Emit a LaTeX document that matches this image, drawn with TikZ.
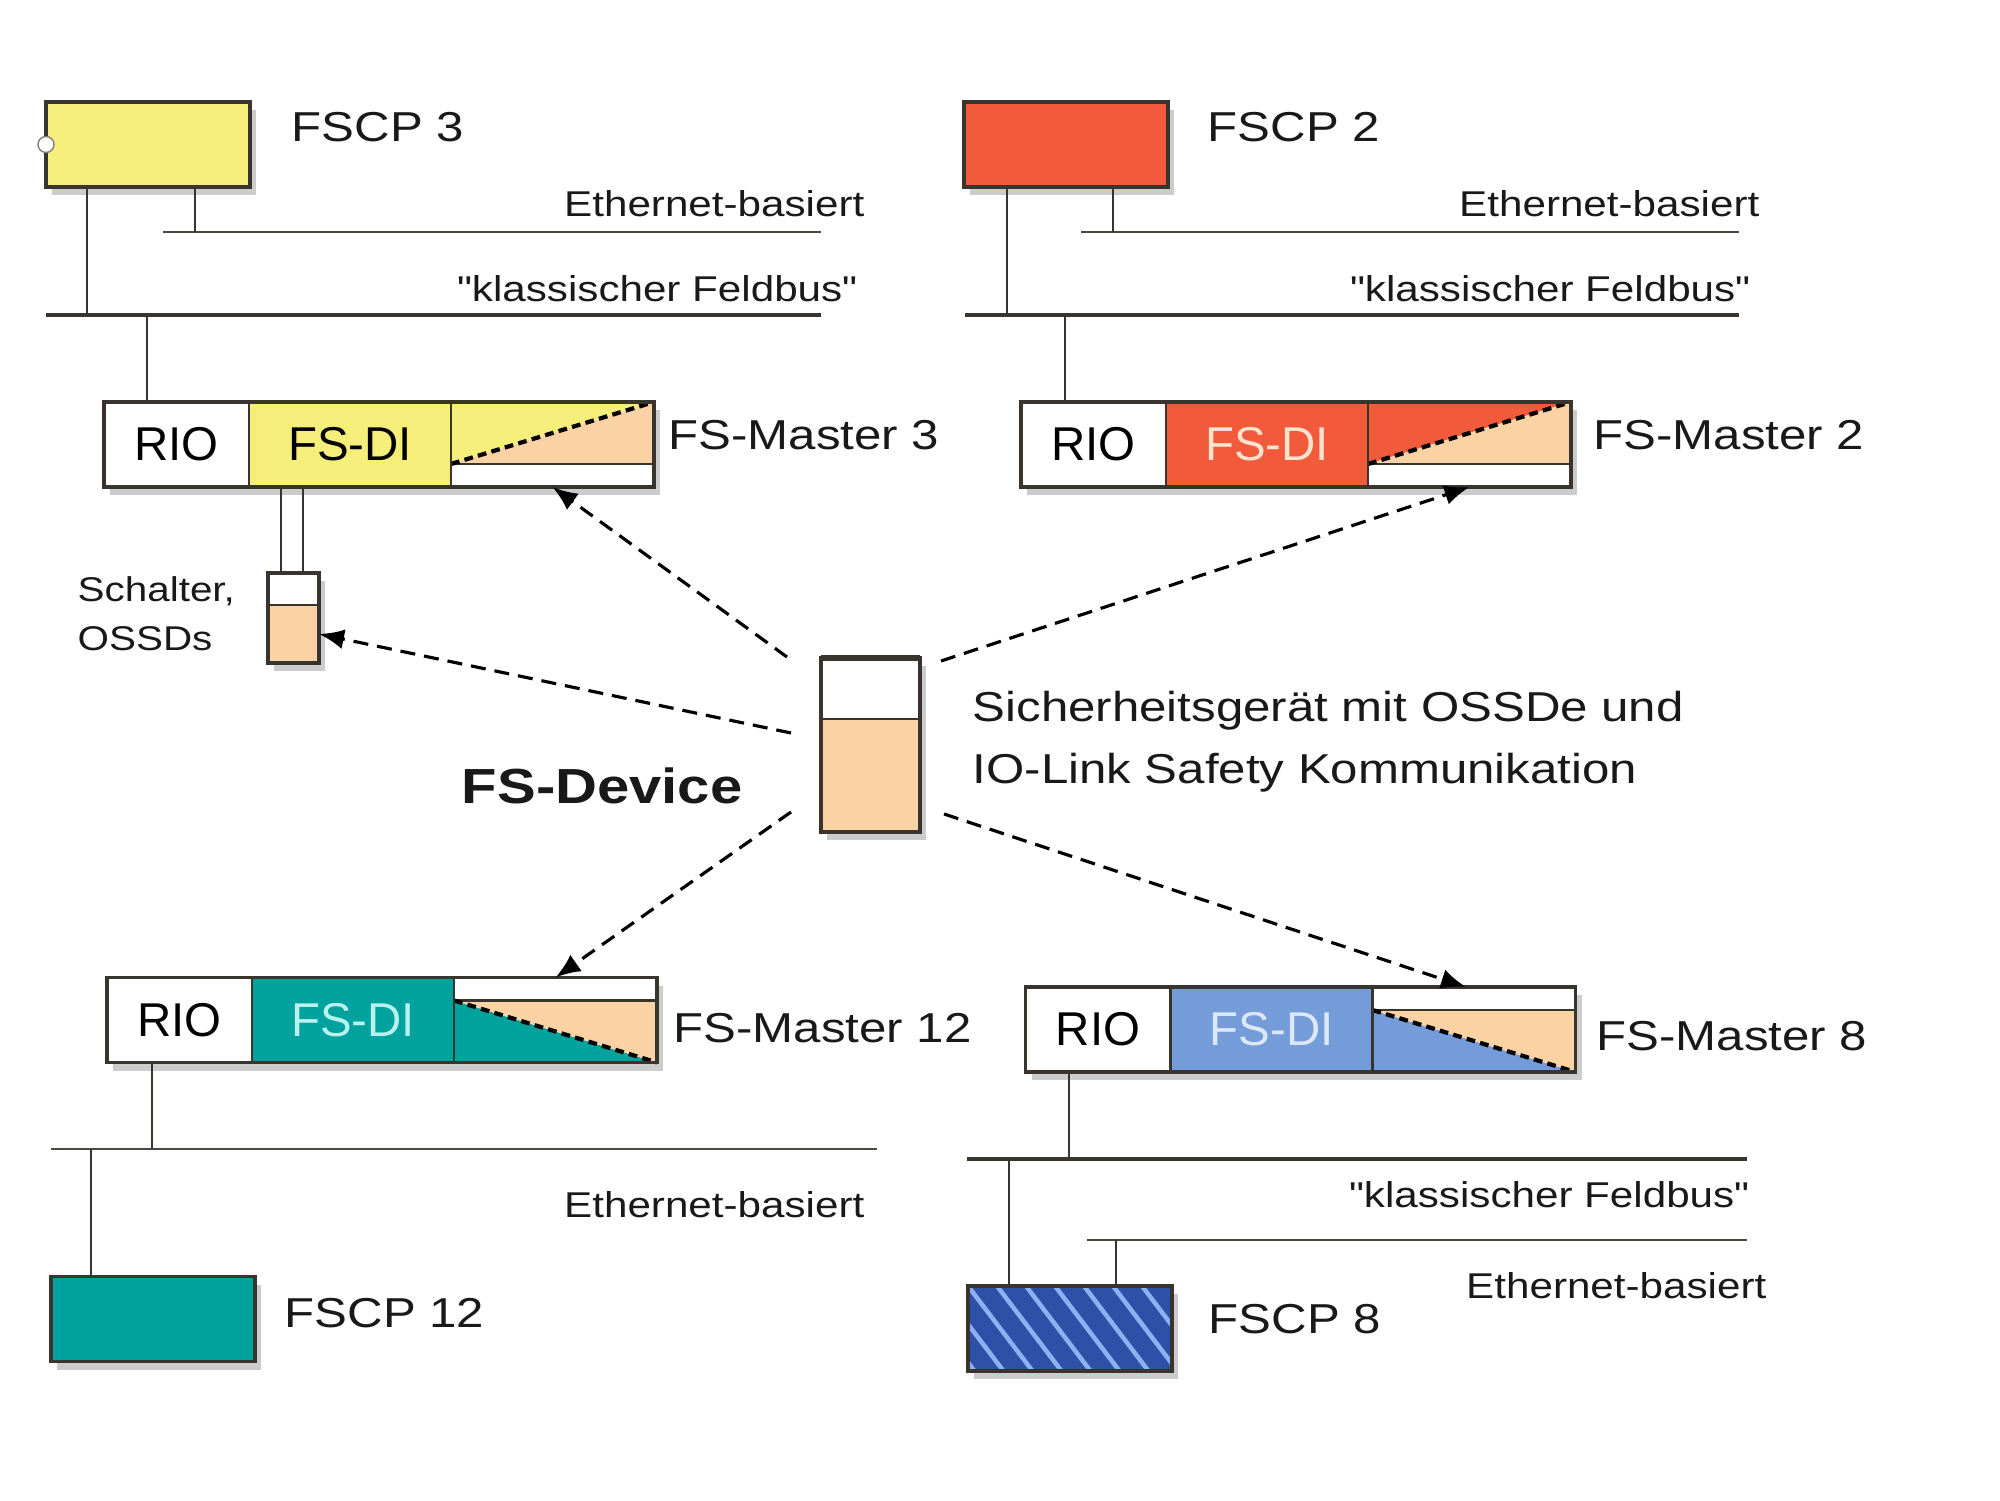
\documentclass[tikz,border=0pt]{standalone}
\usepackage{fontspec}
\setmainfont{Liberation Sans}
\usetikzlibrary{positioning, arrows.meta, calc, shadows}

\definecolor{fsyellow}{HTML}{F5EE7A}
\definecolor{fsred}{HTML}{F15A3A}
\definecolor{fspeach}{HTML}{FBD2A3}
\definecolor{fsteal}{HTML}{00A29D}
\definecolor{fsblue}{HTML}{739CD9}
\definecolor{fsnavy}{HTML}{2E51A8}
\definecolor{fsstripe}{HTML}{8DB0F2}
\definecolor{edgegray}{HTML}{3A342E}
\definecolor{txtred}{HTML}{FCE3CF}
\definecolor{txtteal}{HTML}{B8F2EE}
\definecolor{txtblue}{HTML}{DCE7F7}

\begin{document}
\begin{tikzpicture}[
	font=\fontsize{14}{17}\selectfont,
	>=Latex,
	% Define styles for the boxes
	cpbox/.style={
		draw=edgegray,
		line width=1pt,
		minimum width=2.04cm,
		minimum height=0.85cm,
		inner sep=0pt,
		outer sep=0pt,
		drop shadow={shadow xshift=0.06cm, shadow yshift=-0.08cm, fill=black!50, opacity=0.4}
	},
	master/.style={cpbox, minimum width=5.50cm, fill=white},
	section/.style={
		minimum height=0.85cm,
		inner sep=0pt,
		outer sep=0pt,
		font=\fontsize{13.5}{16}\selectfont
	},
	rio/.style={section, minimum width=1.45cm, fill=white},
	fsdi/.style={section, minimum width=2.02cm},
	endpart/.style={section, minimum width=2.03cm},
	boxline/.style={draw=edgegray, line width=1pt},
	thinline/.style={draw=edgegray, line width=0.6pt},
	diagline/.style={draw=black, line width=1.2pt, dash pattern=on 2.5pt off 1.5pt},
	% Define styles for the buses and links
	ethbus/.style={draw=edgegray!90, line width=0.7pt},
	fieldbus/.style={draw=edgegray, line width=1.1pt},
	wire/.style={draw=edgegray, line width=0.7pt},
	link/.style={
		draw=black,
		line width=0.9pt,
		dash pattern=on 0.15cm off 0.09cm,
		-{Latex[length=0.25cm, width=0.2cm]}
	},
	% Define styles for the texts
	lbl/.style={inner sep=0pt, text=black!90, yscale=0.85},
	buslbl/.style={lbl, font=\fontsize{12}{14}\selectfont}
	]
	
	\useasboundingbox (0,0) rectangle (20,15);
	\fill[white] (0,0) rectangle (20,15);
	
	% --- 1. FSCP 3 / FS-MASTER 3 ---
	\node[cpbox, fill=fsyellow] (fscp3) at (1.48,13.555) {};
	\node[circle, draw=black!50, fill=white, line width=0.4pt, minimum size=0.16cm, inner sep=0pt] (port3) at (fscp3.west) {};
	\node[lbl, anchor=base west] (fscp3lbl) at (2.91,13.58) {FSCP 3};
	
	\coordinate (eth3w) at (1.63,12.68);
	\coordinate (eth3e) at (8.21,12.68);
	\coordinate (fb3w) at (0.46,11.85);
	\coordinate (fb3e) at (8.21,11.85);
	\draw[ethbus] (eth3w) -- (eth3e);
	\draw[fieldbus] (fb3w) -- (fb3e);
	\node[buslbl, anchor=base east] (eth3lbl) at (8.65,12.83) {Ethernet-basiert};
	\node[buslbl, anchor=base east] (fb3lbl) at (8.58,11.98) {\textquotedbl klassischer Feldbus\textquotedbl};
	
	\coordinate (tap3a) at (0.87,11.85);
	\coordinate (tap3b) at (1.95,12.68);
	\coordinate (tap3c) at (1.47,11.85);
	\draw[wire] (fscp3.south -| tap3a) -- (tap3a);
	\draw[wire] (fscp3.south -| tap3b) -- (tap3b);
	
	\node[master] (m3) at (3.79,10.555) {};
	\node[rio, anchor=west] (m3rio) at (m3.west) {RIO};
	\node[fsdi, fill=fsyellow, right=0pt of m3rio] (m3di) {FS-DI};
	\node[endpart, right=0pt of m3di] (m3r) {};
	\fill[fsyellow] ([yshift=0.23cm]m3r.south west) -- (m3r.north west) -- (m3r.north east) -- cycle;
	\fill[fspeach] ([yshift=0.23cm]m3r.south west) -- ([yshift=0.23cm]m3r.south east) -- (m3r.north east) -- cycle;
	\draw[thinline] ([yshift=0.23cm]m3r.south west) -- ([yshift=0.23cm]m3r.south east);
	\draw[diagline] ([yshift=0.23cm]m3r.south west) -- (m3r.north east);
	\draw[thinline] (m3rio.north east) -- (m3rio.south east) (m3di.north east) -- (m3di.south east);
	\draw[boxline] (m3.south west) rectangle (m3.north east);
	\node[lbl, anchor=base west] (m3lbl) at (6.68,10.50) {FS-Master 3};
	\draw[wire] (tap3c) -- (m3.north -| tap3c);
	
	% Switches / OSSDs
	\node[cpbox, minimum width=0.51cm, minimum height=0.90cm, fill=white] (sw) at (2.935,8.82) {};
	\node[section, minimum width=0.51cm, minimum height=0.58cm, fill=fspeach, anchor=south] (swlow) at (sw.south) {};
	\draw[thinline] (swlow.north west) -- (swlow.north east);
	\draw[boxline] (sw.south west) rectangle (sw.north east);
	\coordinate (sw1) at ([xshift=0.13cm]sw.north west);
	\coordinate (sw2) at ([xshift=0.35cm]sw.north west);
	\draw[wire] (sw1) -- (sw1 |- m3.south);
	\draw[wire] (sw2) -- (sw2 |- m3.south);
	\node[lbl, font=\fontsize{11.5}{14}\selectfont, anchor=base west] (swlbl1) at (0.77,8.98) {Schalter,};
	\node[lbl, font=\fontsize{11.5}{14}\selectfont, anchor=base west] (swlbl2) at (0.77,8.50) {OSSDs};
	
	% --- 2. FSCP 2 / FS-MASTER 2 ---
	\node[cpbox, fill=fsred] (fscp2) at (10.66,13.555) {};
	\node[lbl, anchor=base west] (fscp2lbl) at (12.07,13.58) {FSCP 2};
	
	\coordinate (eth2w) at (10.81,12.68);
	\coordinate (eth2e) at (17.39,12.68);
	\coordinate (fb2w) at (9.65,11.85);
	\coordinate (fb2e) at (17.39,11.85);
	\draw[ethbus] (eth2w) -- (eth2e);
	\draw[fieldbus] (fb2w) -- (fb2e);
	\node[buslbl, anchor=base east] (eth2lbl) at (17.60,12.83) {Ethernet-basiert};
	\node[buslbl, anchor=base east] (fb2lbl) at (17.51,11.98) {\textquotedbl klassischer Feldbus\textquotedbl};
	
	\coordinate (tap2a) at (10.07,11.85);
	\coordinate (tap2b) at (11.13,12.68);
	\coordinate (tap2c) at (10.65,11.85);
	\draw[wire] (fscp2.south -| tap2a) -- (tap2a);
	\draw[wire] (fscp2.south -| tap2b) -- (tap2b);
	
	\node[master] (m2) at (12.96,10.555) {};
	\node[rio, anchor=west] (m2rio) at (m2.west) {RIO};
	\node[fsdi, fill=fsred, text=txtred, right=0pt of m2rio] (m2di) {FS-DI};
	\node[endpart, right=0pt of m2di] (m2r) {};
	\fill[fsred] ([yshift=0.23cm]m2r.south west) -- (m2r.north west) -- (m2r.north east) -- cycle;
	\fill[fspeach] ([yshift=0.23cm]m2r.south west) -- ([yshift=0.23cm]m2r.south east) -- (m2r.north east) -- cycle;
	\draw[thinline] ([yshift=0.23cm]m2r.south west) -- ([yshift=0.23cm]m2r.south east);
	\draw[diagline] ([yshift=0.23cm]m2r.south west) -- (m2r.north east);
	\draw[thinline] (m2rio.north east) -- (m2rio.south east) (m2di.north east) -- (m2di.south east);
	\draw[boxline] (m2.south west) rectangle (m2.north east);
	\node[lbl, anchor=base west] (m2lbl) at (15.93,10.50) {FS-Master 2};
	\draw[wire] (tap2c) -- (m2.north -| tap2c);
	
	% --- 3. FS-DEVICE ---
	\node[cpbox, minimum width=0.99cm, minimum height=1.74cm, fill=fspeach] (dev) at (8.705,7.55) {};
	\node[section, minimum width=0.99cm, minimum height=0.61cm, fill=white, anchor=north] (devtop) at (dev.north) {};
	\draw[thinline] (devtop.south west) -- (devtop.south east);
	\draw[boxline] (dev.south west) rectangle (dev.north east);
	\draw[edgegray, line width=1.8pt] (dev.north west) -- (dev.north east);
	\node[lbl, font=\fontsize{16.5}{20}\selectfont\bfseries, anchor=base east] (devlbl) at (7.43,6.97) {FS-Device};
	\node[lbl, anchor=base west] (devtxt1) at (9.72,7.78) {Sicherheitsgerät mit OSSDe und};
	\node[lbl, anchor=base west] (devtxt2) at (9.72,7.17) {IO-Link Safety Kommunikation};
	
	% --- 4. FSCP 12 / FS-MASTER 12 ---
	\node[master] (m12) at (3.82,4.80) {};
	\node[rio, anchor=west] (m12rio) at (m12.west) {RIO};
	\node[fsdi, fill=fsteal, text=txtteal, right=0pt of m12rio] (m12di) {FS-DI};
	\node[endpart, right=0pt of m12di] (m12r) {};
	\fill[fsteal] ([yshift=-0.23cm]m12r.north west) -- (m12r.south west) -- (m12r.south east) -- cycle;
	\fill[fspeach] ([yshift=-0.23cm]m12r.north west) -- ([yshift=-0.23cm]m12r.north east) -- (m12r.south east) -- cycle;
	\draw[thinline] ([yshift=-0.23cm]m12r.north west) -- ([yshift=-0.23cm]m12r.north east);
	\draw[diagline] ([yshift=-0.23cm]m12r.north west) -- (m12r.south east);
	\draw[thinline] (m12rio.north east) -- (m12rio.south east) (m12di.north east) -- (m12di.south east);
	\draw[boxline] (m12.south west) rectangle (m12.north east);
	\node[lbl, anchor=base west] (m12lbl) at (6.73,4.58) {FS-Master 12};
	
	\coordinate (eth12w) at (0.51,3.51);
	\coordinate (eth12e) at (8.77,3.51);
	\draw[ethbus] (eth12w) -- (eth12e);
	\node[buslbl, anchor=base east] (eth12lbl) at (8.65,2.83) {Ethernet-basiert};
	
	\node[cpbox, fill=fsteal] (fscp12) at (1.53,1.81) {};
	\node[lbl, anchor=base west] (fscp12lbl) at (2.84,1.73) {FSCP 12};
	
	\coordinate (tap12a) at (1.52,3.51);
	\coordinate (tap12b) at (0.91,3.51);
	\draw[wire] (m12.south -| tap12a) -- (tap12a);
	\draw[wire] (tap12b) -- (fscp12.north -| tap12b);
	
	% --- 5. FSCP 8 / FS-MASTER 8 ---
	\node[master] (m8) at (13.005,4.705) {};
	\node[rio, anchor=west] (m8rio) at (m8.west) {RIO};
	\node[fsdi, fill=fsblue, text=txtblue, right=0pt of m8rio] (m8di) {FS-DI};
	\node[endpart, right=0pt of m8di] (m8r) {};
	\fill[fsblue] ([yshift=-0.23cm]m8r.north west) -- (m8r.south west) -- (m8r.south east) -- cycle;
	\fill[fspeach] ([yshift=-0.23cm]m8r.north west) -- ([yshift=-0.23cm]m8r.north east) -- (m8r.south east) -- cycle;
	\draw[thinline] ([yshift=-0.23cm]m8r.north west) -- ([yshift=-0.23cm]m8r.north east);
	\draw[diagline] ([yshift=-0.23cm]m8r.north west) -- (m8r.south east);
	\draw[thinline] (m8rio.north east) -- (m8rio.south east) (m8di.north east) -- (m8di.south east);
	\draw[boxline] (m8.south west) rectangle (m8.north east);
	\node[lbl, anchor=base west] (m8lbl) at (15.96,4.50) {FS-Master 8};
	
	\coordinate (fb8w) at (9.67,3.41);
	\coordinate (fb8e) at (17.47,3.41);
	\coordinate (eth8w) at (10.87,2.60);
	\coordinate (eth8e) at (17.47,2.60);
	\draw[fieldbus] (fb8w) -- (fb8e);
	\draw[ethbus] (eth8w) -- (eth8e);
	\node[buslbl, anchor=base east] (fb8lbl) at (17.50,2.93) {\textquotedbl klassischer Feldbus\textquotedbl};
	\node[buslbl, anchor=base east] (eth8lbl) at (17.67,2.02) {Ethernet-basiert};
	
	\node[cpbox, fill=fsnavy] (fscp8) at (10.70,1.715) {};
	\begin{scope}
		\clip (fscp8.south west) rectangle (fscp8.north east);
		\foreach \k in {-4,...,8}
		\draw[fsstripe, line width=0.045cm] ([xshift=\k*0.29cm]fscp8.north west) -- ++(0.66,-0.87);
	\end{scope}
	\draw[boxline] (fscp8.south west) rectangle (fscp8.north east);
	\node[lbl, anchor=base west] (fscp8lbl) at (12.08,1.67) {FSCP 8};
	
	\coordinate (tap8a) at (10.69,3.41);
	\coordinate (tap8b) at (10.09,3.41);
	\coordinate (tap8c) at (11.16,2.60);
	\draw[wire] (m8.south -| tap8a) -- (tap8a);
	\draw[wire] (tap8b) -- (fscp8.north -| tap8b);
	\draw[wire] (tap8c) -- (fscp8.north -| tap8c);
	
	% --- 6. LINKS FROM THE FS-DEVICE ---
	\coordinate (s3) at ([xshift=-0.34cm, yshift=0.01cm]dev.north west);
	\coordinate (ssw) at ([xshift=-0.30cm, yshift=0.12cm]dev.west);
	\coordinate (s2) at ([xshift=0.21cm, yshift=-0.03cm]dev.north east);
	\coordinate (s12) at ([xshift=-0.30cm, yshift=0.20cm]dev.south west);
	\coordinate (s8) at ([xshift=0.24cm, yshift=0.18cm]dev.south east);
	\draw[link] (s3) -- (m3r.south);
	\draw[link] (ssw) -- (swlow.east);
	\draw[link] (s2) -- (m2r.south);
	\draw[link] (s12) -- (m12r.north);
	\draw[link] (s8) -- ([xshift=-0.08cm]m8r.north);
	
\end{tikzpicture}
\end{document}
